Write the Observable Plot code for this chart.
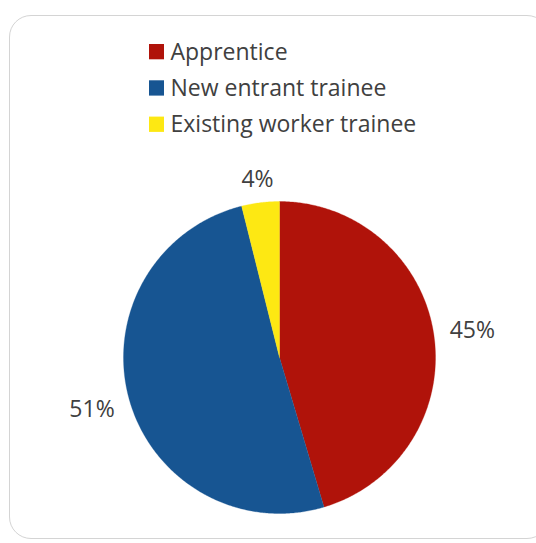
<!DOCTYPE html>
<html>
<head>
<meta charset="utf-8">
<script src="https://cdn.jsdelivr.net/npm/d3@7"></script>
<script src="https://cdn.jsdelivr.net/npm/@observablehq/plot@0.6"></script>
<style>
  html, body { margin: 0; padding: 0; background: #fff; }
  #wrap { position: relative; width: 536px; height: 543px; overflow: hidden; }
  #box { position: absolute; left: 9px; top: 15px; width: 540px; height: 524px;
         border: 1px solid #d4d4d4; border-radius: 22px; box-sizing: border-box; }
  #chart { position: absolute; left: 0; top: 0; }
</style>
</head>
<body>
<div id="wrap"><div id="box"></div><div id="chart"></div></div>
<script>
// Data
const categories = ["Apprentice", "New entrant trainee", "Existing worker trainee"];
const shares = [45.4, 50.7, 3.9];
const colors = ["#B0130A", "#175592", "#FDE813"];

// Layout
const W = 536, H = 543;
const cx = 279, cy = 357, R = 156;
const font = "'Open Sans', sans-serif";
const textColor = "#404040";

const pie = d3.pie().sort(null).value(d => d.value).startAngle(0).endAngle(2 * Math.PI);
const slices = pie(categories.map((c, i) => ({ cat: c, value: shares[i], color: colors[i] })));

// Polygon points for each slice
const piePts = [];
for (const s of slices) {
  const n = Math.max(2, Math.ceil((s.endAngle - s.startAngle) / (Math.PI / 360)));
  piePts.push({ cat: s.data.cat, x: cx, y: cy });
  for (let k = 0; k <= n; k++) {
    const a = s.startAngle + (s.endAngle - s.startAngle) * k / n;
    piePts.push({ cat: s.data.cat, x: cx + R * Math.sin(a), y: cy - R * Math.cos(a) });
  }
  piePts.push({ cat: s.data.cat, x: cx, y: cy });
}

// Labels outside end
const labels = slices.map(s => {
  const a = (s.startAngle + s.endAngle) / 2;
  const d = R + 22 + 17 * Math.abs(Math.sin(a));
  return { text: Math.round(s.data.value) + "%", x: cx + d * Math.sin(a), y: cy - d * Math.cos(a) };
});

// Legend
const legend = categories.map((c, i) => ({ cat: c, color: colors[i], base: 59.3 + i * 36.3 }));

const chart = Plot.plot({
  width: W, height: H,
  margin: 0,
  x: { domain: [0, W], range: [0, W], axis: null },
  y: { domain: [0, H], range: [0, H], axis: null },
  color: { domain: categories, range: colors },
  style: { background: "transparent", fontFamily: font },
  marks: [
    Plot.line(piePts, { x: "x", y: "y", z: "cat", fill: "cat", stroke: "cat", strokeWidth: 0.3, curve: "linear" }),
    Plot.text(labels, { x: "x", y: "y", text: "text", fontSize: 23, fill: textColor, textAnchor: "middle", lineAnchor: "bottom", dy: 8.3, fontFamily: font }),
    Plot.rect(legend, { x1: () => 149, x2: () => 164, y1: d => d.base - 15.3, y2: d => d.base, fill: "cat" }),
    Plot.text(legend, { x: () => 170, y: "base", text: "cat", fontSize: 23, fill: textColor, textAnchor: "start", lineAnchor: "bottom", fontFamily: font })
  ]
});
document.getElementById("chart").appendChild(chart);
</script>
</body>
</html>
